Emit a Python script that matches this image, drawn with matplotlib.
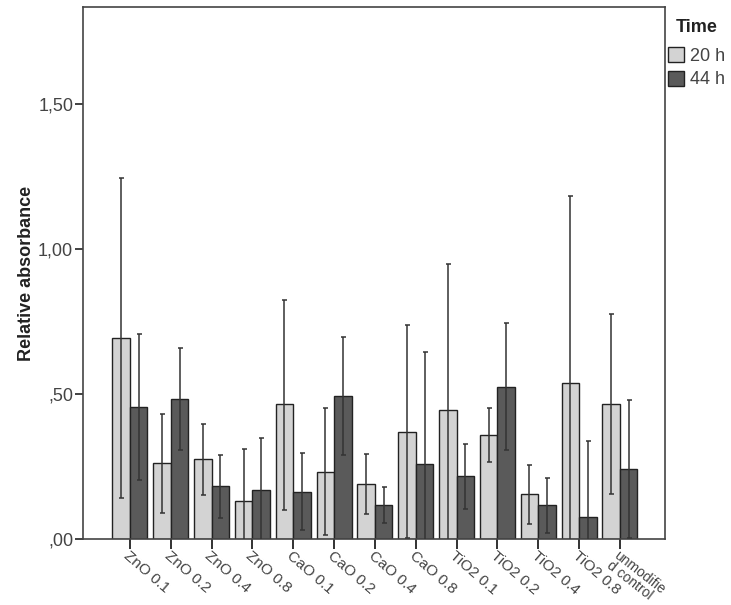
"""
Relative absorbance per coating, 20 h vs 44 h (bars with error bars).
"""

import numpy as np
import matplotlib
matplotlib.use("Agg")
import matplotlib.pyplot as plt

plt.rcParams['font.family'] = ['Liberation Sans', 'DejaVu Sans']

cats = ["ZnO 0.1", "ZnO 0.2", "ZnO 0.4", "ZnO 0.8", "CaO 0.1", "CaO 0.2",
        "CaO 0.4", "CaO 0.8", "TiO2 0.1", "TiO2 0.2", "TiO2 0.4", "TiO2 0.8",
        "unmodifie\nd control"]

# 20 h: mean, upper and lower end of the error bar
m20 = [0.693, 0.262, 0.276, 0.131, 0.466, 0.232, 0.190, 0.370, 0.445, 0.359, 0.155, 0.538, 0.466]
hi20 = [1.245, 0.431, 0.397, 0.310, 0.824, 0.452, 0.293, 0.739, 0.948, 0.452, 0.255, 1.183, 0.776]
lo20 = [0.141, 0.090, 0.152, -0.05, 0.100, 0.013, 0.086, 0.002, -0.06, 0.265, 0.052, -0.11, 0.157]

# 44 h
m44 = [0.455, 0.483, 0.183, 0.168, 0.163, 0.494, 0.117, 0.259, 0.217, 0.524, 0.117, 0.076, 0.241]
hi44 = [0.707, 0.659, 0.290, 0.349, 0.297, 0.697, 0.178, 0.645, 0.328, 0.745, 0.210, 0.338, 0.479]
lo44 = [0.203, 0.307, 0.072, -0.01, 0.030, 0.290, 0.056, -0.13, 0.104, 0.307, 0.021, -0.19, 0.003]

yticks = [0.0, 0.5, 1.0, 1.5]
ytick_labels = [",00", ",50", "1,00", "1,50"]

light = "#d3d3d3"
dark = "#5a5a5a"
txt = "#444444"

x = np.arange(len(cats))
w = 0.43

fig = plt.figure(figsize=(7.31, 6.05), dpi=100)
ax = fig.add_axes([0.1135, 0.109, 0.796, 0.879])

m20 = np.array(m20); m44 = np.array(m44)
err20 = [m20 - np.array(lo20), np.array(hi20) - m20]
err44 = [m44 - np.array(lo44), np.array(hi44) - m44]

ax.bar(x - w/2, m20, w, color=light, edgecolor="#222222", linewidth=1.0, label="20 h", zorder=2)
ax.bar(x + w/2, m44, w, color=dark, edgecolor="#222222", linewidth=1.0, label="44 h", zorder=2)
ax.errorbar(x - w/2, m20, yerr=err20, fmt="none", ecolor="#333333", elinewidth=1.1,
            capsize=1.8, capthick=1.1, zorder=3)
ax.errorbar(x + w/2, m44, yerr=err44, fmt="none", ecolor="#333333", elinewidth=1.1,
            capsize=1.8, capthick=1.1, zorder=3)

ax.set_xlim(-1.15, 13.1)
ax.set_ylim(0, 1.835)

ax.set_yticks(yticks)
ax.set_yticklabels(ytick_labels, fontsize=13, color=txt)
ax.set_xticks(x)
ax.set_xticklabels(cats, fontsize=11, color=txt, rotation=-41, ha="left", va="top",
                   rotation_mode="anchor", multialignment="left", linespacing=0.8)
last = ax.get_xticklabels()[-1]
last.set_fontsize(10)
last.set_rotation(-38)
ax.tick_params(axis="y", length=6, width=1.3, color="#333333", pad=1)
ax.tick_params(axis="x", length=7, width=1.3, color="#222222", pad=0)

for s in ax.spines.values():
    s.set_color("#444444")
    s.set_linewidth(1.2)

ax.set_ylabel("Relative absorbance", fontsize=13, fontweight="bold", color="#222222", labelpad=2)

leg = ax.legend(loc="upper left", bbox_to_anchor=(0.914, 0.968), bbox_transform=fig.transFigure,
                frameon=False, title="Time", fontsize=13, handlelength=0.9, handleheight=0.9,
                handletextpad=0.3, labelspacing=0.3, borderaxespad=0, borderpad=0)
leg.get_title().set_fontweight("bold")
leg.get_title().set_fontsize(13)
leg.get_title().set_color("#222222")
leg._legend_box.sep = 8
for t in leg.get_texts():
    t.set_color(txt)

fig.savefig("out.png", dpi=100)
